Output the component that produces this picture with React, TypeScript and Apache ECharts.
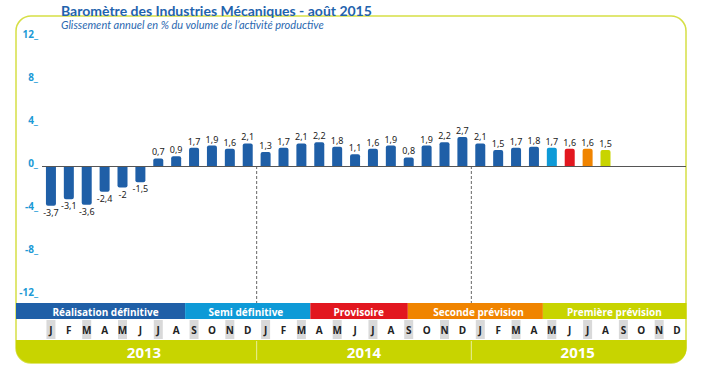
import React, { useEffect, useRef } from "react";
import * as echarts from "echarts";

const monthLetters = ["J", "F", "M", "A", "M", "J", "J", "A", "S", "O", "N", "D"];
const years = ["2013", "2014", "2015"];
const categories: string[] = [];
years.forEach((y) => monthLetters.forEach((m, i) => categories.push(y + "-" + (i + 1))));

// Glissement annuel (%), Jan 2013 .. Aug 2015
const values = [
  -3.7, -3.1, -3.6, -2.4, -2, -1.5, 0.7, 0.9, 1.7, 1.9, 1.6, 2.1,
  1.3, 1.7, 2.1, 2.2, 1.8, 1.1, 1.6, 1.9, 0.8, 1.9, 2.2, 2.7,
  2.1, 1.5, 1.7, 1.8, 1.7, 1.6, 1.6, 1.5,
];
// status of each bar
const barStatus = [
  "def", "def", "def", "def", "def", "def", "def", "def", "def", "def", "def", "def",
  "def", "def", "def", "def", "def", "def", "def", "def", "def", "def", "def", "def",
  "def", "def", "def", "def", "semi", "prov", "sec", "prem",
];
const statusColors: Record<string, string> = {
  def: "#1f5fa7",
  semi: "#0e9ad7",
  prov: "#e2171f",
  sec: "#f08400",
  prem: "#c8d400",
};
// legend bands: label, status, start / end in month units
const bandLabels = ["Réalisation définitive", "Semi définitive", "Provisoire", "Seconde prévision", "Première prévision"];
const bandStatus = ["def", "semi", "prov", "sec", "prem"];
const bandEdges = [-1.45, 8, 15, 20.45, 28, 36];
const bandTextCenters = [3.55, 11.4, 17.7, 24.4, 32.0];
const yearTextCenters = [5.7, 18, 29.95];
const yTicks = { min: -12, max: 12, interval: 4 };
const dividers = [11.5, 23.5];

const W = 709;
const H = 372;
const GL = 42;
const GR = 23;
const GT = 37;
const GB = 77;

export default function App() {
  const ref = useRef<HTMLDivElement>(null);
  useEffect(() => {
    document.body.style.margin = "0";
    const chart = echarts.init(ref.current!, null, { renderer: "svg", width: W, height: H });
    const catW = (W - GL - GR) / categories.length;
    const px = (m: number) => GL + m * catW;

    const barData = categories.map((c, i) => {
      const v = values[i];
      if (v === undefined) return "-";
      return {
        value: v,
        itemStyle: {
          color: statusColors[barStatus[i]],
          borderRadius: v >= 0 ? [2, 2, 0, 0] : [0, 0, 2, 2],
        },
        label: { position: v >= 0 ? "top" : "bottom" },
      };
    });

    const graphics: any[] = [];
    // frame
    graphics.push({
      type: "rect",
      z: -10,
      shape: { x: 16, y: 16, width: 670, height: 347, r: 15 },
      style: { fill: "none", stroke: "#d6df45", lineWidth: 1.5 },
      silent: true,
    });
    // year band
    graphics.push({
      type: "rect",
      z: -5,
      shape: { x: 16, y: 340, width: 670.5, height: 23, r: [0, 0, 15, 15] },
      style: { fill: "#c8d400" },
      silent: true,
    });
    years.forEach((y, i) => {
      graphics.push({
        type: "text",
        z: 5,
        x: px(yearTextCenters[i]),
        y: 351.5,
        style: {
          text: y,
          fill: "#ffffff",
          font: "bold 15px 'Open Sans'",
          align: "center",
          verticalAlign: "middle",
        },
      });
    });
    dividers.forEach((d) => {
      graphics.push({
        type: "line",
        z: 5,
        shape: { x1: px(d + 0.5), y1: 341, x2: px(d + 0.5), y2: 360 },
        style: { stroke: "#e9ef9c", lineWidth: 1 },
      });
    });
    // legend bands
    bandLabels.forEach((lab, i) => {
      const x0 = i === 0 ? 16 : px(bandEdges[i]);
      const x1 = i === bandLabels.length - 1 ? 686.5 : px(bandEdges[i + 1]);
      graphics.push({
        type: "rect",
        z: -5,
        shape: { x: x0, y: 303, width: x1 - x0, height: 16 },
        style: { fill: statusColors[bandStatus[i]] },
        silent: true,
      });
      graphics.push({
        type: "text",
        z: 5,
        x: px(bandTextCenters[i]),
        y: 311.5,
        style: {
          text: lab,
          fill: "#ffffff",
          font: "bold 10px 'Open Sans'",
          align: "center",
          verticalAlign: "middle",
        },
      });
    });
    // titles
    graphics.push({
      type: "text",
      x: 61,
      y: 3,
      style: {
        text: "Baromètre des Industries Mécaniques - août 2015",
        fill: "#1f63ad",
        font: "bold 14px Lato",
        verticalAlign: "top",
      },
    });
    graphics.push({
      type: "text",
      x: 61,
      y: 19,
      style: {
        text: "Glissement annuel en % du volume de l’activité productive",
        fill: "#2a68b0",
        font: "italic 11px Lato",
        verticalAlign: "top",
      },
    });

    const monthRich = {
      g: {
        backgroundColor: "#d9d9d9",
        width: 9,
        height: 19,
        lineHeight: 19,
        align: "center",
        fontWeight: "bold",
        fontSize: 10,
        color: "#222",
        fontFamily: "Open Sans",
      },
      w: {
        width: 9,
        height: 19,
        lineHeight: 19,
        align: "center",
        fontWeight: "bold",
        fontSize: 10,
        color: "#222",
        fontFamily: "Open Sans",
      },
    };

    const option: any = {
      animation: false,
      backgroundColor: "#ffffff",
      grid: { left: GL, right: GR, top: GT, bottom: GB, containLabel: false },
      xAxis: [
        {
          type: "category",
          data: categories,
          axisLine: { show: false, onZero: false },
          axisTick: { show: false },
          splitLine: { show: false },
          axisLabel: {
            interval: 0,
            margin: 25,
            formatter: (v: string, i: number) => {
              const m = i % 12;
              return "{" + (m % 2 === 0 ? "g" : "w") + "|" + monthLetters[m] + "}";
            },
            rich: monthRich,
          },
        },
        {
          type: "value",
          min: -0.5,
          max: categories.length - 0.5,
          show: false,
        },
      ],
      yAxis: {
        type: "value",
        min: yTicks.min,
        max: yTicks.max,
        interval: yTicks.interval,
        axisLine: { show: false },
        axisTick: { show: false },
        splitLine: { show: false },
        axisLabel: {
          formatter: (v: number) => v + "_",
          color: "#1b9ad6",
          fontWeight: "bold",
          fontSize: 10,
          fontFamily: "Open Sans",
          margin: 4,
          verticalAlign: "bottom",
          lineHeight: 6,
        },
      },
      series: [
        {
          type: "bar",
          data: barData,
          barWidth: 10,
          label: {
            show: true,
            distance: 2,
            fontSize: 9,
            color: "#222",
            fontFamily: "Noto Sans",
            formatter: (p: any) => String(p.value).replace(".", ","),
          },
          markLine: {
            silent: true,
            symbol: "none",
            label: { show: false },
            lineStyle: { color: "#555", width: 1, type: "solid" },
            data: [{ yAxis: 0 }],
          },
        },
      ],
      graphic: graphics,
    };
    chart.setOption(option);

    // dashed year dividers, positioned through the chart's own scales
    const dashed = dividers.map((d) => {
      const top = chart.convertToPixel({ xAxisIndex: 1, yAxisIndex: 0 } as any, [d, 0]) as number[];
      const bot = chart.convertToPixel({ xAxisIndex: 1, yAxisIndex: 0 } as any, [d, yTicks.min]) as number[];
      return {
        type: "line",
        z: 4,
        shape: { x1: top[0], y1: top[1], x2: bot[0], y2: bot[1] + 8 },
        style: { stroke: "#666", lineWidth: 1, lineDash: [3, 2] },
        silent: true,
      };
    });
    chart.setOption({ graphic: graphics.concat(dashed) });
    return () => chart.dispose();
  }, []);
  return <div ref={ref} style={{ width: W, height: H, position: "absolute", left: 0, top: 0 }} />;
}
